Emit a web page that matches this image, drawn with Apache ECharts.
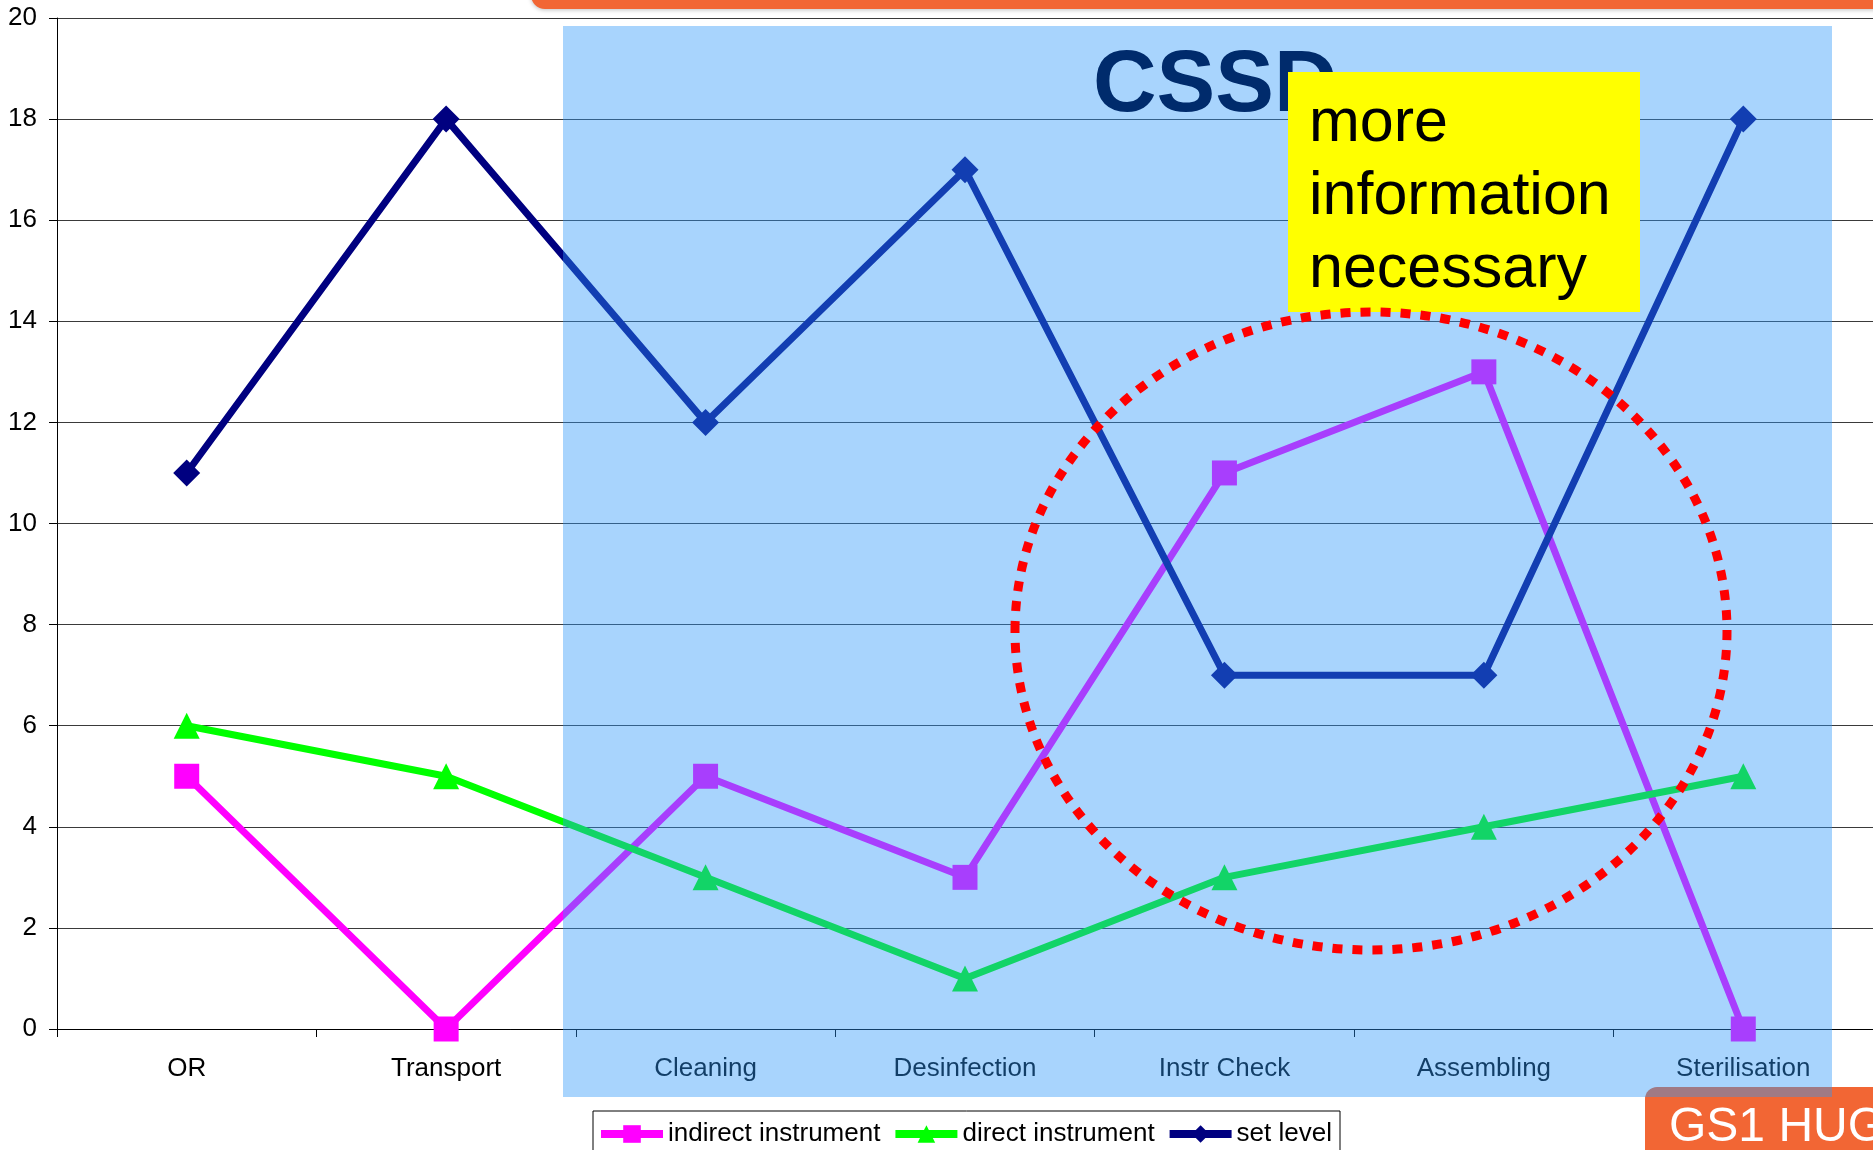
<!DOCTYPE html>
<html>
<head>
<meta charset="utf-8">
<title>CSSD</title>
<script src="https://cdn.jsdelivr.net/npm/echarts@6/dist/echarts.min.js"></script>
<style>
  html, body { margin: 0; padding: 0; background: #fff; }
  #chart { width: 1873px; height: 1150px; }
</style>
</head>
<body>
<div id="chart"></div>
<script>
// process steps
var steps = ['OR', 'Transport', 'Cleaning', 'Desinfection', 'Instr Check', 'Assembling', 'Sterilisation'];
var indirectInstrument = [5, 0, 5, 3, 11, 13, 0];
var directInstrument = [6, 5, 3, 1, 3, 4, 5];
var setLevel = [11, 18, 12, 17, 7, 7, 18];
var yTicks = [0, 20, 2]; // min, max, interval

var FONT = '"Liberation Sans", Arial, sans-serif';

var myChart = echarts.init(document.getElementById('chart'));

myChart.setOption({
  animation: false,
  grid: { left: 57, top: 18, right: -9, bottom: 121 },
  legend: {
    left: 597,
    top: 1120,
    padding: 0,
    itemWidth: 62,
    itemHeight: 22,
    itemGap: 11,
    lineStyle: { width: 8 },
    textStyle: { fontFamily: FONT, fontSize: 26, color: '#000', lineHeight: 28 },
    data: ['indirect instrument', 'direct instrument', 'set level']
  },
  xAxis: {
    type: 'category',
    data: steps,
    boundaryGap: true,
    axisLine: { lineStyle: { color: '#000', width: 1 } },
    axisTick: { show: true, length: 8, lineStyle: { color: '#000' } },
    axisLabel: { fontFamily: FONT, fontSize: 26, color: '#000', margin: 27 },
    splitLine: { show: false }
  },
  yAxis: {
    type: 'value',
    min: yTicks[0],
    max: yTicks[1],
    interval: yTicks[2],
    axisLine: { show: true, lineStyle: { color: '#000', width: 1 } },
    axisTick: { show: true, length: 8, lineStyle: { color: '#000' } },
    axisLabel: { fontFamily: FONT, fontSize: 26, color: '#000', margin: 20 },
    splitLine: { lineStyle: { color: '#3a3a3a', width: 1 } }
  },
  series: [
    {
      name: 'indirect instrument',
      type: 'line',
      data: indirectInstrument,
      symbol: 'rect',
      symbolSize: 25,
      lineStyle: { color: '#ff00ff', width: 7 },
      itemStyle: { color: '#ff00ff' }
    },
    {
      name: 'direct instrument',
      type: 'line',
      data: directInstrument,
      symbol: 'triangle',
      symbolSize: 26,
      lineStyle: { color: '#00ff00', width: 7 },
      itemStyle: { color: '#00ff00' }
    },
    {
      name: 'set level',
      type: 'line',
      data: setLevel,
      symbol: 'diamond',
      symbolSize: 27,
      lineStyle: { color: '#000080', width: 7 },
      itemStyle: { color: '#000080' }
    }
  ],
  graphic: [
    // legend frame
    { type: 'rect', z: 1, shape: { x: 593, y: 1111, width: 747, height: 60 },
      style: { fill: '#fff', stroke: '#000', lineWidth: 1 } },
    // orange bar at top
    { type: 'rect', z: 5, shape: { x: 531, y: -12, width: 1400, height: 21, r: [0, 0, 0, 14] },
      style: { fill: '#f26634', shadowBlur: 4, shadowColor: 'rgba(0,0,0,0.25)', shadowOffsetY: 1 } },
    // GS1 HUG corner box
    { type: 'rect', z: 5, shape: { x: 1645, y: 1087, width: 240, height: 80, r: [12, 0, 0, 0] },
      style: { fill: '#f26634' } },
    { type: 'text', z: 6, x: 1669, y: 1128,
      style: { text: 'GS1 HUG', fill: '#fff', font: '48px ' + FONT, verticalAlign: 'middle' } },
    // translucent CSSD area
    { type: 'rect', z: 10, shape: { x: 563, y: 26, width: 1269, height: 1071 },
      style: { fill: 'rgba(44,151,249,0.41)' } },
    { type: 'text', z: 11, x: 1093, y: 87,
      style: { text: 'CSSD', fill: '#002b6c', font: 'bold 88px ' + FONT, verticalAlign: 'middle' } },
    // yellow note
    { type: 'rect', z: 12, shape: { x: 1288, y: 72, width: 352, height: 240 },
      style: { fill: '#ffff00' } },
    { type: 'text', z: 13, x: 1309, y: 88,
      style: { text: 'more\ninformation\nnecessary', fill: '#000', font: '61px ' + FONT,
               lineHeight: 73, verticalAlign: 'top' } },
    // red dotted ellipse
    { type: 'ellipse', z: 14, shape: { cx: 1371, cy: 631, rx: 356, ry: 319 },
      style: { fill: 'none', stroke: '#ff0000', lineWidth: 9, lineDash: [10, 10] } }
  ]
});
</script>
</body>
</html>
